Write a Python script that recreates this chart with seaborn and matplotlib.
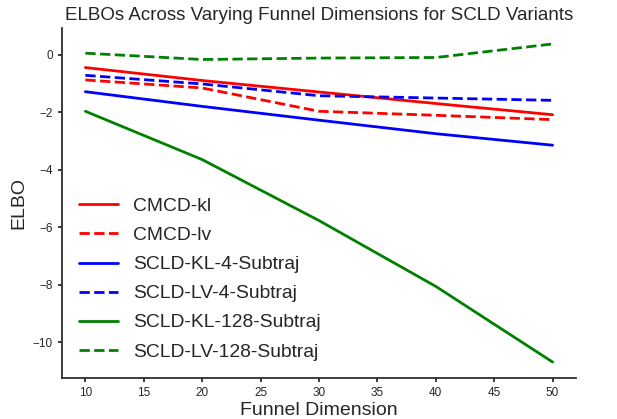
import matplotlib
matplotlib.use("Agg")
import matplotlib.pyplot as plt
import seaborn as sns
import pandas as pd

dims = [10, 20, 30, 40, 50]
cmcd_kl = [-0.45, -0.90, -1.30, -1.70, -2.09]
cmcd_lv = [-0.88, -1.16, -1.97, -2.11, -2.26]
scld_kl_4 = [-1.29, -1.80, -2.28, -2.75, -3.15]
scld_lv_4 = [-0.72, -1.02, -1.43, -1.51, -1.59]
scld_kl_128 = [-1.97, -3.65, -5.77, -8.06, -10.69]
scld_lv_128 = [0.05, -0.17, -0.12, -0.10, 0.37]

series = [
    ("CMCD-kl", cmcd_kl, "red", "-"),
    ("CMCD-lv", cmcd_lv, "red", "--"),
    ("SCLD-KL-4-Subtraj", scld_kl_4, "blue", "-"),
    ("SCLD-LV-4-Subtraj", scld_lv_4, "blue", "--"),
    ("SCLD-KL-128-Subtraj", scld_kl_128, "green", "-"),
    ("SCLD-LV-128-Subtraj", scld_lv_128, "green", "--"),
]

sns.set_theme(style="ticks")
plt.rcParams['font.family'] = ['Liberation Sans', 'DejaVu Sans']

fig = plt.figure(figsize=(6.17, 4.19), dpi=100)
ax = fig.add_axes([0.1005, 0.098, 0.833, 0.835])

for name, vals, color, ls in series:
    df = pd.DataFrame({"dim": dims, "elbo": vals})
    sns.lineplot(data=df, x="dim", y="elbo", ax=ax, color=color,
                 linestyle=ls, linewidth=2, label=name)

ax.set_xticks([10, 15, 20, 25, 30, 35, 40, 45, 50])
ax.tick_params(axis='both', labelsize=8.5, length=3)
ax.set_xlabel("Funnel Dimension", fontsize=14, labelpad=2)
ax.set_ylabel("ELBO", fontsize=14)
ax.set_title("ELBOs Across Varying Funnel Dimensions for SCLD Variants", fontsize=13.5)
ax.legend(loc="lower left", frameon=False, fontsize=13.9, labelspacing=0.6)
sns.despine(ax=ax)

fig.savefig("out.png", dpi=100)
